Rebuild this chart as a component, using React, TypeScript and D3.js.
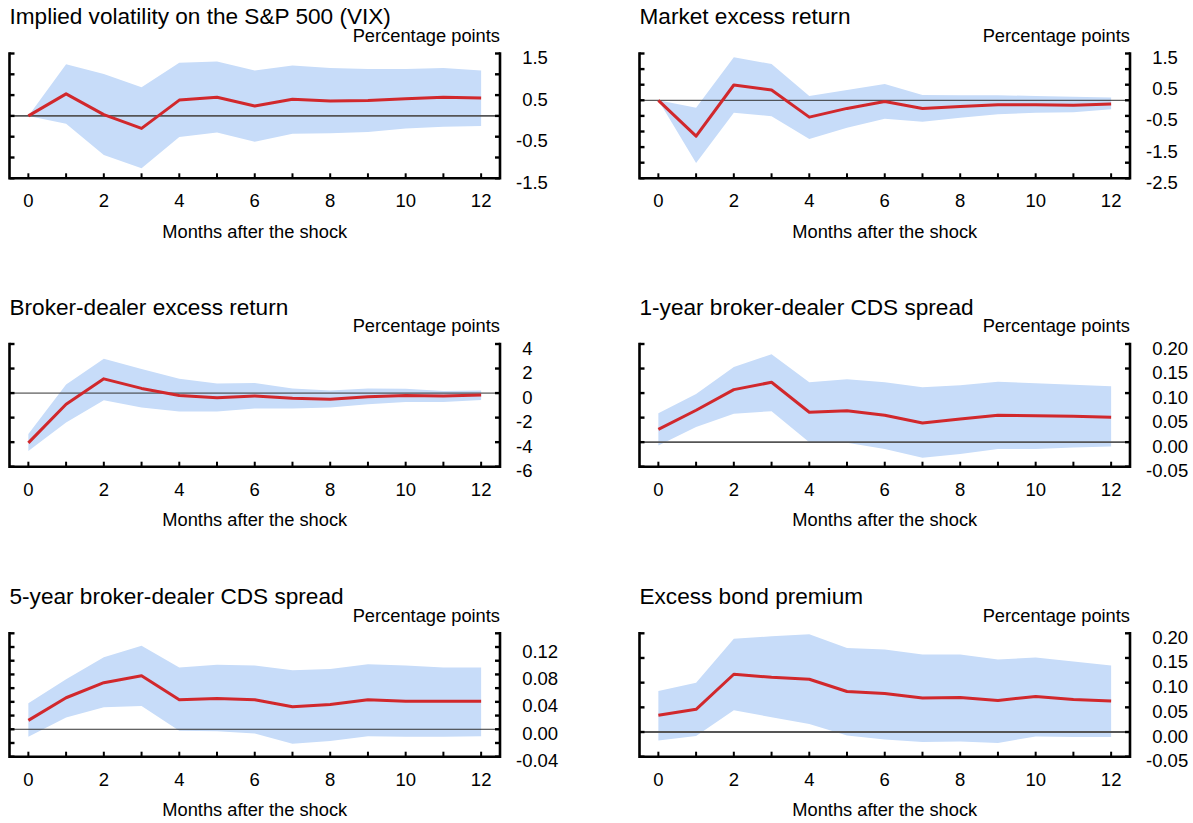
import { useEffect, useRef } from "react"
import * as d3 from "d3"

// Months after the shock
const months = [0, 1, 2, 3, 4, 5, 6, 7, 8, 9, 10, 11, 12]

// Implied volatility on the S&P 500 (VIX)
const vixMid = [0, 0.53, 0.03, -0.3, 0.38, 0.45, 0.24, 0.4, 0.36, 0.37, 0.41, 0.45, 0.43]
const vixHigh = [0, 1.24, 1.01, 0.69, 1.28, 1.31, 1.09, 1.21, 1.15, 1.13, 1.13, 1.15, 1.09]
const vixLow = [0, -0.19, -0.94, -1.26, -0.51, -0.4, -0.62, -0.43, -0.42, -0.39, -0.3, -0.26, -0.24]
const vixTicks = [-1.5, -1, -0.5, 0, 0.5, 1, 1.5]
const vixLabels = [-1.5, -0.5, 0.5, 1.5]

// Market excess return
const mktMid = [0, -1.15, 0.49, 0.33, -0.54, -0.26, -0.04, -0.26, -0.2, -0.14, -0.14, -0.16, -0.12]
const mktHigh = [0, -0.24, 1.38, 1.16, 0.14, 0.33, 0.52, 0.17, 0.16, 0.16, 0.14, 0.11, 0.09]
const mktLow = [0, -2.01, -0.4, -0.51, -1.24, -0.88, -0.59, -0.69, -0.56, -0.45, -0.4, -0.38, -0.29]
const mktTicks = [-2.5, -2, -1.5, -1, -0.5, 0, 0.5, 1, 1.5]
const mktLabels = [-2.5, -1.5, -0.5, 0.5, 1.5]

// Broker-dealer excess return
const bdMid = [-4.06, -0.91, 1.16, 0.38, -0.19, -0.38, -0.24, -0.43, -0.51, -0.3, -0.19, -0.24, -0.16]
const bdHigh = [-3.33, 0.7, 2.8, 1.96, 1.16, 0.78, 0.83, 0.38, 0.22, 0.38, 0.35, 0.16, 0.22]
const bdLow = [-4.73, -2.39, -0.59, -1.18, -1.51, -1.51, -1.26, -1.26, -1.18, -0.91, -0.73, -0.73, -0.56]
const bdTicks = [-6, -4, -2, 0, 2, 4]
const bdLabels = [-6, -4, -2, 0, 2, 4]

// 1-year broker-dealer CDS spread
const cds1Mid = [0.026, 0.065, 0.107, 0.122, 0.061, 0.064, 0.055, 0.039, 0.047, 0.055, 0.054, 0.053, 0.051]
const cds1High = [0.059, 0.098, 0.153, 0.179, 0.122, 0.128, 0.122, 0.112, 0.116, 0.123, 0.12, 0.117, 0.114]
const cds1Low = [-0.007, 0.031, 0.058, 0.063, 0.0, -0.001, -0.014, -0.032, -0.024, -0.014, -0.014, -0.011, -0.009]
const cds1Ticks = [-0.05, 0, 0.05, 0.1, 0.15, 0.2]
const cds1Labels = [-0.05, 0, 0.05, 0.1, 0.15, 0.2]

// 5-year broker-dealer CDS spread
const cds5Mid = [0.013, 0.046, 0.068, 0.078, 0.043, 0.045, 0.043, 0.033, 0.036, 0.043, 0.041, 0.041, 0.041]
const cds5High = [0.038, 0.073, 0.105, 0.122, 0.09, 0.094, 0.093, 0.086, 0.088, 0.095, 0.093, 0.09, 0.09]
const cds5Low = [-0.011, 0.017, 0.032, 0.034, -0.002, -0.003, -0.006, -0.021, -0.017, -0.01, -0.011, -0.011, -0.01]
const cds5Ticks = [-0.04, -0.02, 0, 0.02, 0.04, 0.06, 0.08, 0.1, 0.12, 0.14]
const cds5Labels = [-0.04, 0, 0.04, 0.08, 0.12]

// Excess bond premium
const ebpMid = [0.034, 0.046, 0.117, 0.111, 0.107, 0.082, 0.078, 0.069, 0.07, 0.064, 0.072, 0.066, 0.063]
const ebpHigh = [0.083, 0.1, 0.189, 0.194, 0.198, 0.17, 0.167, 0.157, 0.157, 0.147, 0.151, 0.143, 0.135]
const ebpLow = [-0.017, -0.008, 0.044, 0.03, 0.016, -0.007, -0.015, -0.02, -0.019, -0.022, -0.009, -0.01, -0.01]
const ebpTicks = [-0.05, 0, 0.05, 0.1, 0.15, 0.2]
const ebpLabels = [-0.05, 0, 0.05, 0.1, 0.15, 0.2]

type Panel = {
    title: string
    mid: number[]
    high: number[]
    low: number[]
    ticks: number[]
    labels: number[]
    digits: number
    col: number
    row: number
    zeroThick: boolean
}

const panels: Panel[] = [
    { title: "Implied volatility on the S&P 500 (VIX)", mid: vixMid, high: vixHigh, low: vixLow, ticks: vixTicks, labels: vixLabels, digits: 1, col: 0, row: 0, zeroThick: true },
    { title: "Market excess return", mid: mktMid, high: mktHigh, low: mktLow, ticks: mktTicks, labels: mktLabels, digits: 1, col: 1, row: 0, zeroThick: false },
    { title: "Broker-dealer excess return", mid: bdMid, high: bdHigh, low: bdLow, ticks: bdTicks, labels: bdLabels, digits: 0, col: 0, row: 1, zeroThick: false },
    { title: "1-year broker-dealer CDS spread", mid: cds1Mid, high: cds1High, low: cds1Low, ticks: cds1Ticks, labels: cds1Labels, digits: 2, col: 1, row: 1, zeroThick: true },
    { title: "5-year broker-dealer CDS spread", mid: cds5Mid, high: cds5High, low: cds5Low, ticks: cds5Ticks, labels: cds5Labels, digits: 2, col: 0, row: 2, zeroThick: false },
    { title: "Excess bond premium", mid: ebpMid, high: ebpHigh, low: ebpLow, ticks: ebpTicks, labels: ebpLabels, digits: 2, col: 1, row: 2, zeroThick: true },
]

const rowBounds = [[53.5, 178.3], [344, 466.7], [633.3, 756.7]]
const colLeft = [9.5, 639.5]
const plotWidth = 490.5
const bandColor = "#c7dcf9"
const lineColor = "#d1282c"

const drawPanel = (svg: d3.Selection<SVGSVGElement, unknown, null, undefined>, p: Panel) => {
    const left = colLeft[p.col]
    const right = left + plotWidth
    const [top, bottom] = rowBounds[p.row]

    const x = d3.scaleLinear().domain([-0.5, 12.5]).range([left, right])
    const y = d3.scaleLinear().domain(d3.extent(p.ticks) as [number, number]).range([bottom, top])

    const g = svg.append("g")

    // confidence band
    g.append("path")
        .datum(months)
        .attr("fill", bandColor)
        .attr("d", d3.area<number>()
            .x(m => x(m))
            .y0((_, i) => y(p.low[i]))
            .y1((_, i) => y(p.high[i])))

    // zero line
    g.append("line")
        .attr("x1", left).attr("x2", right)
        .attr("y1", y(0)).attr("y2", y(0))
        .attr("stroke", p.zeroThick ? "#555" : "#333")
        .attr("stroke-width", p.zeroThick ? 1.8 : 1)

    // response
    g.append("path")
        .datum(months)
        .attr("fill", "none")
        .attr("stroke", lineColor)
        .attr("stroke-width", 3)
        .attr("stroke-linejoin", "round")
        .attr("d", d3.line<number>()
            .x(m => x(m))
            .y((_, i) => y(p.mid[i])))

    // frame
    const axisPath = d3.path()
    axisPath.moveTo(left, top)
    axisPath.lineTo(left, bottom)
    axisPath.lineTo(right, bottom)
    axisPath.lineTo(right, top)
    g.append("path")
        .attr("d", axisPath.toString())
        .attr("fill", "none")
        .attr("stroke", "black")
        .attr("stroke-width", 2.6)
        .attr("stroke-linecap", "square")

    // y ticks, both sides pointing inward
    g.selectAll(".ytick-l")
        .data(p.ticks)
        .join("line")
        .attr("x1", left).attr("x2", left + 5)
        .attr("y1", d => y(d)).attr("y2", d => y(d))
        .attr("stroke", "black").attr("stroke-width", 2.4)
    g.selectAll(".ytick-r")
        .data(p.ticks)
        .join("line")
        .attr("x1", right - 5).attr("x2", right)
        .attr("y1", d => y(d)).attr("y2", d => y(d))
        .attr("stroke", "black").attr("stroke-width", 2.4)

    // x ticks
    g.selectAll(".xtick")
        .data(months)
        .join("line")
        .attr("x1", d => x(d)).attr("x2", d => x(d))
        .attr("y1", bottom - 5).attr("y2", bottom)
        .attr("stroke", "black").attr("stroke-width", 2)

    // x tick labels
    g.selectAll(".xlabel")
        .data(months.filter(m => m % 2 === 0))
        .join("text")
        .attr("x", d => x(d))
        .attr("y", bottom + 29)
        .attr("text-anchor", "middle")
        .attr("font-size", "18.5px")
        .text(d => `${d}`)

    // y tick labels on the right, right-aligned
    const yLabels = g.selectAll<SVGTextElement, number>(".ylabel")
        .data(p.labels)
        .join("text")
        .attr("y", d => y(d) + 10.5)
        .attr("font-size", "18.5px")
        .text(d => d.toFixed(p.digits))
    let maxW = 0
    yLabels.each(function () { maxW = Math.max(maxW, this.getComputedTextLength()) })
    yLabels.attr("x", right + 16 + maxW).attr("text-anchor", "end")

    // titles
    g.append("text")
        .attr("x", left)
        .attr("y", top - 29.5)
        .attr("font-size", "22.6px")
        .text(p.title)

    g.append("text")
        .attr("x", right)
        .attr("y", top - 11.8)
        .attr("text-anchor", "end")
        .attr("font-size", "18.3px")
        .text("Percentage points")

    g.append("text")
        .attr("x", x(6))
        .attr("y", bottom + 59.5)
        .attr("text-anchor", "middle")
        .attr("font-size", "18.3px")
        .text("Months after the shock")
}

export default function App() {
    const svgRef = useRef<SVGSVGElement>(null)

    useEffect(() => {
        if (!svgRef.current) return
        const svg = d3.select(svgRef.current)
        svg.selectAll("*").remove()
        panels.forEach(p => drawPanel(svg, p))
        return () => { svg.selectAll("*").remove() }
    }, [])

    return (
        <svg
            ref={svgRef}
            width={1193}
            height={823}
            style={{ position: "absolute", left: 0, top: 0, background: "white", fontFamily: "'Liberation Sans', Arial, Helvetica, sans-serif" }}
        />
    )
}
